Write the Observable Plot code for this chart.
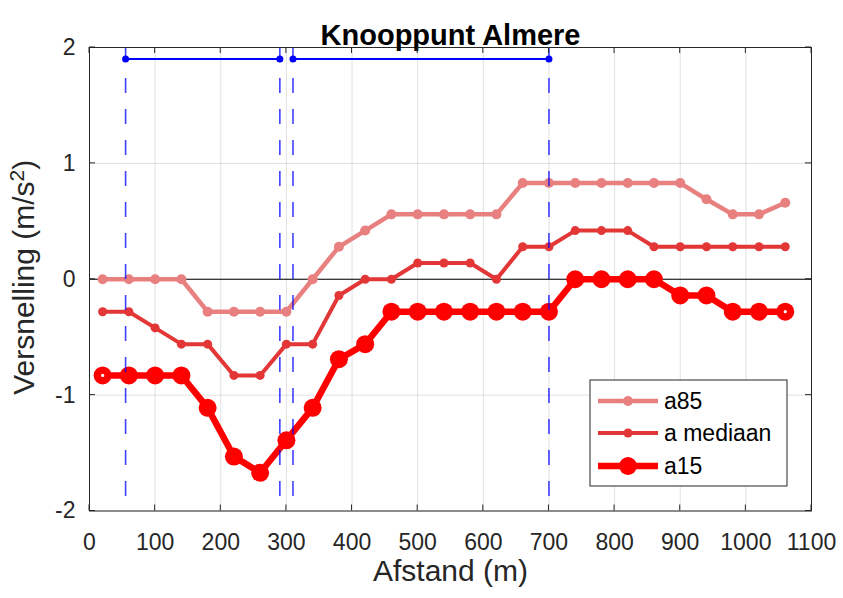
<!DOCTYPE html>
<html>
<head>
<meta charset="utf-8">
<script src="https://cdn.jsdelivr.net/npm/d3@7"></script>
<script src="https://cdn.jsdelivr.net/npm/@observablehq/plot@0.6"></script>
<style>
  html, body { margin: 0; padding: 0; background: #fff; }
  #chart svg { display: block; }
</style>
</head>
<body>
<div id="chart"></div>
<script>
// ---- data ----
const title = "Knooppunt Almere";
const xLabel = "Afstand (m)";
const yLabel = "Versnelling (m/s²)";
const distance = [20, 60, 100, 140, 180, 220, 260, 300, 340, 380, 420, 460, 500, 540, 580, 620, 660, 700, 740, 780, 820, 860, 900, 940, 980, 1020, 1060];
const a85 = [0, 0, 0, 0, -0.28, -0.28, -0.28, -0.28, 0, 0.28, 0.42, 0.56, 0.56, 0.56, 0.56, 0.56, 0.83, 0.83, 0.83, 0.83, 0.83, 0.83, 0.83, 0.69, 0.56, 0.56, 0.66];
const aMediaan = [-0.28, -0.28, -0.42, -0.56, -0.56, -0.83, -0.83, -0.56, -0.56, -0.14, 0, 0, 0.14, 0.14, 0.14, 0, 0.28, 0.28, 0.42, 0.42, 0.42, 0.28, 0.28, 0.28, 0.28, 0.28, 0.28];
const a15 = [-0.83, -0.83, -0.83, -0.83, -1.11, -1.53, -1.67, -1.39, -1.11, -0.69, -0.56, -0.28, -0.28, -0.28, -0.28, -0.28, -0.28, -0.28, 0, 0, 0, 0, -0.14, -0.14, -0.28, -0.28, -0.28];
const zoneStarts = [55, 310];
const zoneEnds = [290, 700];
const zoneLevel = 1.9;
const xTicks = [0, 100, 200, 300, 400, 500, 600, 700, 800, 900, 1000, 1100];
const yTicks = [-2, -1, 0, 1, 2];
const seriesNames = ["a85", "a mediaan", "a15"];

// ---- derived tables ----
const rows = (vals) => distance.map((d, i) => ({ x: d, y: vals[i] }));
const r85 = rows(a85), rMed = rows(aMediaan), r15 = rows(a15);
const zones = zoneStarts.map((s, i) => ({ x1: s, x2: zoneEnds[i], y: zoneLevel }));
const zoneBounds = zoneStarts.flatMap((s, i) => [s, zoneEnds[i]]);
const zoneDots = zoneBounds.map(x => ({ x, y: zoneLevel }));
const endPts = [r15[0], r15[r15.length - 1]];

const col85 = "#e88080", colMed = "#e33636", col15 = "#ff0000";
const ink = "#262626";
const font = "'Liberation Sans', Arial, Helvetica, sans-serif";
const styles = [
  { color: col85, sw: 4.5, r: 5 },
  { color: colMed, sw: 4, r: 4.5 },
  { color: col15, sw: 6.5, r: 9 }
];

const chart = Plot.plot({
  width: 843,
  height: 598,
  marginLeft: 89,
  marginRight: 32,
  marginTop: 47,
  marginBottom: 87.5,
  style: { fontFamily: font, color: ink, background: "#fff" },
  x: { domain: [0, 1100], label: null },
  y: { domain: [-2, 2], label: null },
  marks: [
    Plot.gridX(xTicks, { stroke: "#000", strokeOpacity: 0.12, strokeWidth: 1 }),
    Plot.gridY(yTicks, { stroke: "#000", strokeOpacity: 0.12, strokeWidth: 1 }),
    Plot.ruleY([0], { stroke: "#000", strokeWidth: 1 }),
    Plot.line(r85, { x: "x", y: "y", stroke: col85, strokeWidth: styles[0].sw }),
    Plot.dot(r85, { x: "x", y: "y", fill: col85, r: styles[0].r }),
    Plot.line(rMed, { x: "x", y: "y", stroke: colMed, strokeWidth: styles[1].sw }),
    Plot.dot(rMed, { x: "x", y: "y", fill: colMed, r: styles[1].r }),
    Plot.line(r15, { x: "x", y: "y", stroke: col15, strokeWidth: styles[2].sw }),
    Plot.dot(r15, { x: "x", y: "y", fill: col15, r: styles[2].r }),
    Plot.dot(endPts, { x: "x", y: "y", fill: "#fff", r: 1.6 }),
    Plot.ruleX(zoneBounds, { stroke: "#0000ff", strokeOpacity: 0.75, strokeWidth: 1.6, strokeDasharray: "15,16" }),
    Plot.link(zones, { x1: "x1", x2: "x2", y1: "y", y2: "y", stroke: "#0000ff", strokeWidth: 2 }),
    Plot.dot(zoneDots, { x: "x", y: "y", fill: "#0000ff", r: 3.5 }),
    Plot.frame({ stroke: ink, strokeWidth: 1 }),
    Plot.axisX(xTicks, { tickSize: 0, tickPadding: 22.5, fontSize: 23, fill: ink, tickFormat: d => String(d), label: null }),
    Plot.axisY(yTicks, { tickSize: 0, tickPadding: 14, fontSize: 23, fill: ink, tickFormat: d => String(d), label: null }),
    Plot.text([title], { frameAnchor: "top", dy: -23.5, fontSize: 29, fontWeight: "bold", fill: "#000" }),
    Plot.text([xLabel], { frameAnchor: "bottom", dy: 69.5, fontSize: 30, fill: ink }),
    Plot.text([yLabel], { frameAnchor: "left", textAnchor: "middle", dx: -65.5, dy: -2, rotate: -90, fontSize: 30, fill: ink })
  ]
});

const svg = d3.select(chart);

// superscript in the y-axis label
svg.selectAll("text").filter(function () { return this.textContent === yLabel; }).each(function () {
  const t = d3.select(this);
  t.text("Versnelling (m/s");
  t.append("tspan").attr("dy", "-0.45em").attr("font-size", "0.7em").text("2");
  t.append("tspan").attr("dy", "0.315em").text(")");
});

// inward ticks on all four sides, positioned with the plot's scales
const sx = chart.scale("x"), sy = chart.scale("y");
const tickLen = 6;
const yTop = sy.apply(2), yBottom = sy.apply(-2), xLeft = sx.apply(0), xRight = sx.apply(1100);
const tg = svg.append("g").attr("stroke", ink).attr("stroke-width", 1);
xTicks.forEach(v => {
  const px = sx.apply(v);
  tg.append("line").attr("x1", px).attr("x2", px).attr("y1", yBottom).attr("y2", yBottom - tickLen);
  tg.append("line").attr("x1", px).attr("x2", px).attr("y1", yTop).attr("y2", yTop + tickLen);
});
yTicks.forEach(v => {
  const py = sy.apply(v);
  tg.append("line").attr("y1", py).attr("y2", py).attr("x1", xLeft).attr("x2", xLeft + tickLen);
  tg.append("line").attr("y1", py).attr("y2", py).attr("x1", xRight).attr("x2", xRight - tickLen);
});

// legend (inside the axes, lower right)
const lg = svg.append("g").attr("font-family", font).attr("text-anchor", "start");
const lx = 590, ly = 380, lw = 197, lh = 106;
lg.append("rect").attr("x", lx).attr("y", ly).attr("width", lw).attr("height", lh)
  .attr("fill", "#fff").attr("stroke", ink).attr("stroke-width", 1);
const rowY = [401, 433, 466];
seriesNames.forEach((name, i) => {
  const s = styles[i];
  lg.append("line").attr("x1", 598).attr("x2", 658).attr("y1", rowY[i]).attr("y2", rowY[i])
    .attr("stroke", s.color).attr("stroke-width", s.sw);
  lg.append("circle").attr("cx", 628).attr("cy", rowY[i]).attr("r", s.r).attr("fill", s.color);
  lg.append("text").attr("x", 664).attr("y", rowY[i]).attr("dy", "0.35em")
    .attr("font-size", 23).attr("fill", "#000").text(name);
});

document.getElementById("chart").appendChild(chart);
</script>
</body>
</html>
